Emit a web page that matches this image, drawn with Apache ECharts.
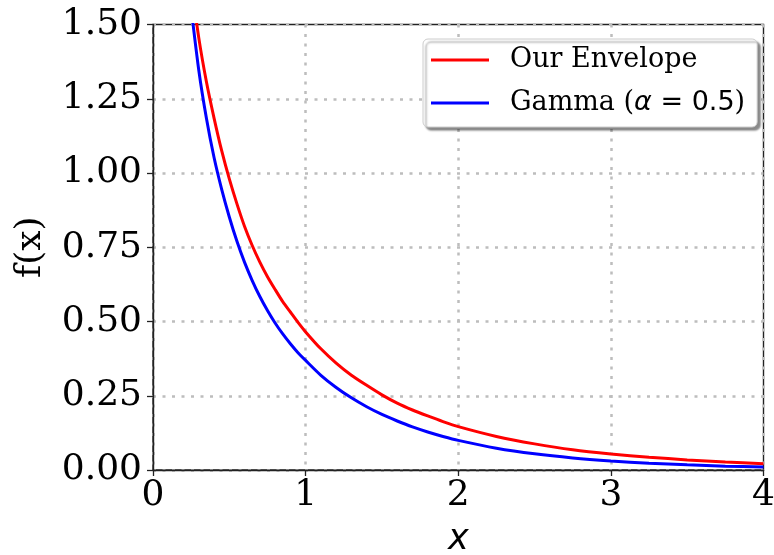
<!DOCTYPE html>
<html>
<head>
<meta charset="utf-8">
<script src="https://cdn.jsdelivr.net/npm/echarts@6/dist/echarts.min.js"></script>
<style>
  html, body { margin: 0; padding: 0; background: #ffffff; overflow: hidden; }
  #chart { width: 774px; height: 555px; }
</style>
</head>
<body>
<div id="chart"></div>
<script>
// Shared sample positions along x
const sampleX = [0.25, 0.30, 0.35, 0.40, 0.45, 0.50, 0.55, 0.60, 0.65, 0.70, 0.75, 0.80, 0.85, 0.90, 0.95, 1.00,
                 1.10, 1.20, 1.30, 1.40, 1.50, 1.60, 1.70, 1.80, 1.90, 2.00,
                 2.25, 2.50, 2.75, 3.00, 3.25, 3.50, 3.75, 4.00];

// Envelope curve values at sampleX
const envelopeY = [1.64, 1.455, 1.307, 1.185, 1.075, 0.98, 0.896, 0.82, 0.756, 0.70, 0.651, 0.608, 0.567, 0.532, 0.497, 0.465,
                   0.408, 0.36, 0.319, 0.285, 0.253, 0.225, 0.202, 0.182, 0.163, 0.146,
                   0.113, 0.088, 0.068, 0.054, 0.043, 0.034, 0.027, 0.021];

// Gamma(alpha = 0.5) density values at sampleX
const gammaY = [1.555, 1.346, 1.184, 1.052, 0.945, 0.852, 0.770, 0.699, 0.638, 0.584, 0.537, 0.495, 0.458, 0.425, 0.395, 0.369,
                0.319, 0.278, 0.243, 0.213, 0.187, 0.165, 0.145, 0.128, 0.113, 0.0997,
                0.0735, 0.0545, 0.0406, 0.0305, 0.0229, 0.0173, 0.013, 0.0098];

const xTicks = [0, 1, 2, 3, 4];
const yTicks = [0, 0.25, 0.5, 0.75, 1.0, 1.25, 1.5];

const envelopeName = 'Our Envelope';
const gammaName = 'Gamma (α = 0.5)';

const pairs = (xs, ys) => xs.map((x, i) => [x, ys[i]]);

const serif = 'DejaVu Serif';
const sans = 'DejaVu Sans';

const gridLine = { show: true, lineStyle: { color: '#bdbdbd', width: 2.5, type: [3, 6.5] } };

const chart = echarts.init(document.getElementById('chart'), null, { renderer: 'canvas' });
chart.setOption({
  animation: false,
  backgroundColor: '#ffffff',
  grid: {
    left: 153, right: 10.5, top: 24.5, bottom: 85,
    outerBoundsMode: 'none',
    show: true, borderColor: '#222', borderWidth: 1.4, backgroundColor: 'transparent'
  },
  xAxis: {
    type: 'value',
    min: xTicks[0], max: xTicks[xTicks.length - 1], interval: 1,
    name: 'x',
    nameLocation: 'middle',
    nameGap: 52,
    nameTextStyle: { fontFamily: sans, fontStyle: 'italic', fontSize: 35, color: '#000' },
    axisLine: { show: true, lineStyle: { color: '#222', width: 1.4 } },
    axisTick: { show: true, length: 6, lineStyle: { color: '#222', width: 1.3 } },
    axisLabel: { fontFamily: serif, fontSize: 36, color: '#000', margin: 8 },
    splitLine: gridLine
  },
  yAxis: {
    type: 'value',
    min: yTicks[0], max: yTicks[yTicks.length - 1], interval: 0.25,
    name: 'f(x)',
    nameLocation: 'middle',
    nameRotate: 90,
    nameGap: 104,
    nameTextStyle: { fontFamily: serif, fontSize: 36, color: '#000' },
    axisLine: { show: true, lineStyle: { color: '#222', width: 1.4 } },
    axisTick: { show: true, length: 6, lineStyle: { color: '#222', width: 1.3 } },
    axisLabel: { fontFamily: serif, fontSize: 36, color: '#000', margin: 11, formatter: v => v.toFixed(2) },
    splitLine: gridLine
  },
  legend: {
    orient: 'vertical',
    left: 423, top: 39,
    padding: [5, 12, 8, 8],
    itemGap: 11,
    itemWidth: 58, itemHeight: 3,
    icon: 'rect',
    backgroundColor: '#ffffff',
    borderColor: '#cccccc', borderWidth: 1, borderRadius: 5,
    shadowColor: 'rgba(0,0,0,0.45)', shadowBlur: 2, shadowOffsetX: 3, shadowOffsetY: 3,
    data: [envelopeName, gammaName],
    formatter: name => name === gammaName
      ? '{s|Gamma (}{i|α}{m| = 0.5}{s|)}'
      : '{s|' + name + '}',
    textStyle: {
      fontSize: 27, lineHeight: 32, color: '#000', padding: [0, 0, 0, 16],
      rich: {
        s: { fontFamily: serif, fontSize: 27, color: '#000' },
        i: { fontFamily: sans, fontStyle: 'italic', fontSize: 27, color: '#000' },
        m: { fontFamily: sans, fontSize: 27, color: '#000' }
      }
    }
  },
  series: [
    {
      name: envelopeName, type: 'line',
      data: pairs(sampleX, envelopeY),
      smooth: 0.25, showSymbol: false, clip: true,
      lineStyle: { color: '#ff0000', width: 3 }, itemStyle: { color: '#ff0000' }
    },
    {
      name: gammaName, type: 'line',
      data: pairs(sampleX, gammaY),
      smooth: 0.25, showSymbol: false, clip: true,
      lineStyle: { color: '#0000ff', width: 3 }, itemStyle: { color: '#0000ff' }
    }
  ]
});
</script>
</body>
</html>
